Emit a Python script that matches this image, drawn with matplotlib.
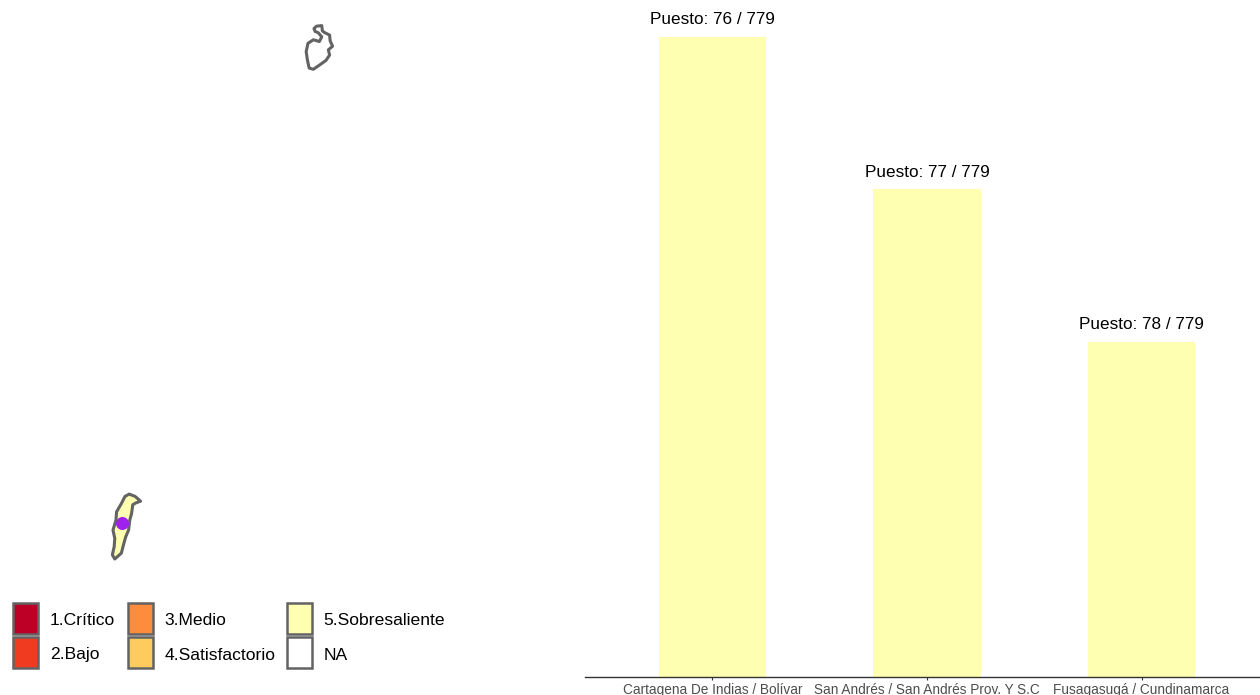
import matplotlib
matplotlib.use('Agg')
import matplotlib.pyplot as plt
from matplotlib.patches import Rectangle

plt.rcParams['font.family'] = ['Liberation Sans', 'DejaVu Sans']

# municipalities and bar values
municipios = ['Cartagena De Indias / Bolívar', 'San Andrés / San Andrés Prov. Y S.C', 'Fusagasugá / Cundinamarca']
valores = [4.2, 3.2, 2.2]
puestos = ['Puesto: 76 / 779', 'Puesto: 77 / 779', 'Puesto: 78 / 779']
color_barra = '#FFFFB2'

# island outlines, lon / lat
providencia_lon = [-81.380, -81.376, -81.367, -81.366, -81.362, -81.354, -81.353, -81.349, -81.356, -81.354, -81.360,
                   -81.371, -81.381, -81.388, -81.391, -81.393, -81.390, -81.381, -81.371, -81.367, -81.373, -81.378]
providencia_lat = [13.388, 13.392, 13.393, 13.384, 13.381, 13.377, 13.367, 13.358, 13.352, 13.343, 13.334,
                   13.326, 13.319, 13.321, 13.335, 13.349, 13.363, 13.369, 13.366, 13.374, 13.381, 13.383]
san_andres_lon = [-81.688, -81.678, -81.669, -81.677, -81.682, -81.684, -81.687, -81.689, -81.694, -81.698,
                  -81.701, -81.712, -81.716, -81.713, -81.712, -81.715, -81.710, -81.709, -81.701, -81.695]
san_andres_lat = [12.599, 12.595, 12.587, 12.584, 12.581, 12.566, 12.555, 12.538, 12.526, 12.511,
                  12.499, 12.489, 12.496, 12.510, 12.524, 12.538, 12.555, 12.569, 12.583, 12.595]
punto_lon = [-81.70]
punto_lat = [12.55]

# legend
niveles = ['1.Crítico', '2.Bajo', '3.Medio', '4.Satisfactorio', '5.Sobresaliente', 'NA']
colores = ['#BD0026', '#F03B20', '#FD8D3C', '#FECC5C', '#FFFFB2', '#FFFFFF']

W, H = 1260, 695
fig = plt.figure(figsize=(W / 100, H / 100), dpi=100)

# map on the left
ax_map = fig.add_axes([0, 0, 585 / W, 1])
ax_map.fill(providencia_lon, providencia_lat, facecolor='white', edgecolor='#636363', linewidth=2.2, joinstyle='round')
ax_map.fill(san_andres_lon, san_andres_lat, facecolor=color_barra, edgecolor='#636363', linewidth=2.2, joinstyle='round')
ax_map.scatter(punto_lon, punto_lat, s=88, color='#A020F0', zorder=3, linewidths=0)
ax_map.set_xlim(-81.9033, -80.9283)
ax_map.set_ylim(12.2585, 13.4364)
ax_map.axis('off')

# bars on the right
ax = fig.add_axes([585 / W, (H - 677) / H, 675 / W, 677 / H])
pos = range(len(municipios))
ax.bar(pos, valores, width=0.5, color=color_barra)
for i, v in enumerate(valores):
    ax.annotate(puestos[i], (i, v), xytext=(0, 7), textcoords='offset points', ha='center', va='bottom', fontsize=12.3)
ax.set_xlim(-0.594, 2.552)
ax.set_ylim(0, 4.2 * 677 / 640)
ax.set_xticks(list(pos))
ax.set_xticklabels(municipios, fontsize=9.8, color='#4D4D4D')
ax.tick_params(axis='x', length=2.5, width=0.8, color='#333333', pad=1.6)
ax.set_yticks([])
for s in ['top', 'left', 'right']:
    ax.spines[s].set_visible(False)
ax.spines['bottom'].set_color('#333333')
ax.spines['bottom'].set_linewidth(1.0)

# legend drawn by hand, axes in image pixels
ax_leg = fig.add_axes([0, 0, 1, 1], facecolor='none')
ax_leg.set_xlim(0, W)
ax_leg.set_ylim(H, 0)
ax_leg.axis('off')
col_x = [13, 127.5, 286.5]
row_y = [602.5, 637]
for k, (nivel, col) in enumerate(zip(niveles, colores)):
    x = col_x[k // 2]
    y = row_y[k % 2]
    ax_leg.add_patch(Rectangle((x, y), 25, 31, facecolor=col, edgecolor='#636363', linewidth=1.8))
    ax_leg.text(x + 37, y + 18, nivel, fontsize=12.6, va='center', ha='left')

fig.savefig('out.png', dpi=100)
